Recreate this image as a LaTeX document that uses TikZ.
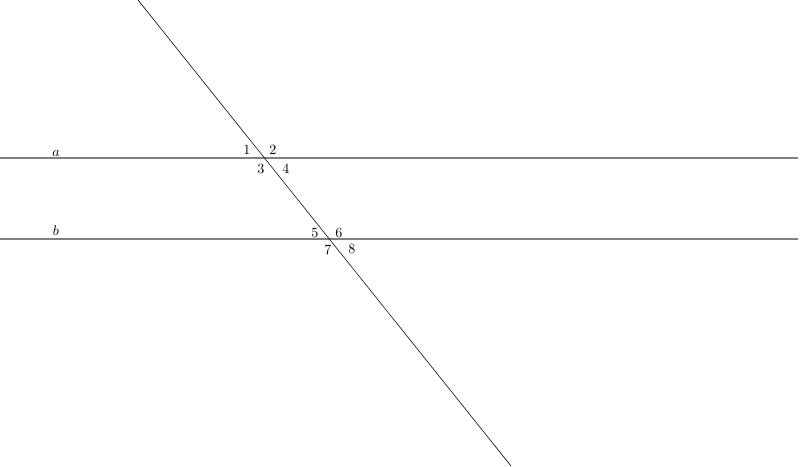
\documentclass[tikz,border=0pt]{standalone}
\usepackage{amsmath}
\tikzset{parline/.style={gray, line width=0.8pt}}
\begin{document}
\begin{tikzpicture}

\useasboundingbox (0,0) rectangle (20,11.65);

\coordinate (a1) at (0,7.7);
\coordinate (a2) at (19.95,7.7);
\coordinate (b1) at (0,5.675);
\coordinate (b2) at (19.95,5.675);
\coordinate (t1) at (3.45,11.65);
\coordinate (t2) at (12.775,0);

\draw [parline] (a1) -- (a2);
\draw [parline] (b1) -- (b2);
\draw (t1) -- (t2);

\node (la) at (1.4,7.825) {$a$};
\node (lb) at (1.4,5.875) {$b$};

\node (v1) at (6.175,7.9) {1};
\node (v2) at (6.825,7.9) {2};
\node (v3) at (6.525,7.425) {3};
\node (v4) at (7.15,7.425) {4};
\node (v5) at (7.875,5.825) {5};
\node (v6) at (8.475,5.825) {6};
\node (v7) at (8.2,5.4) {7};
\node (v8) at (8.8,5.425) {8};
\end{tikzpicture}
\end{document}
